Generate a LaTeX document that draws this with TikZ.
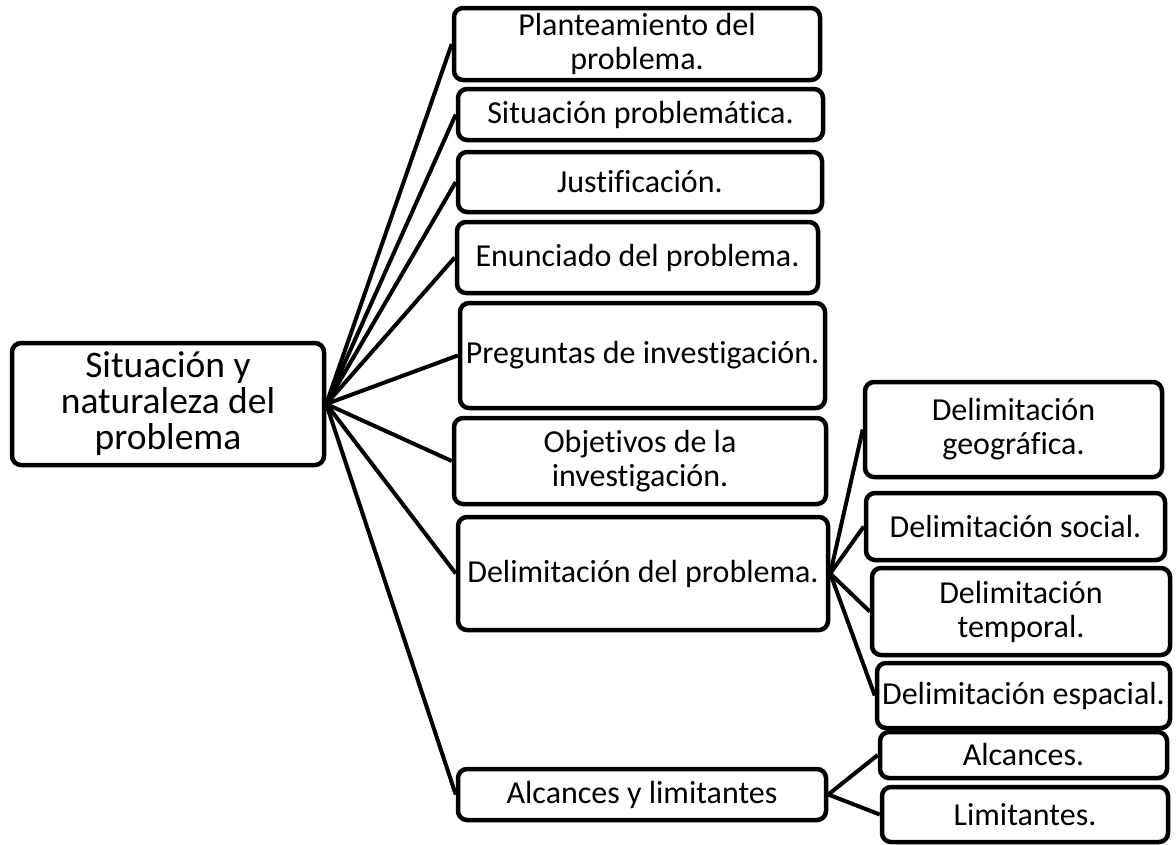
\documentclass[tikz,border=0pt]{standalone}
\usepackage{fontspec}
\setmainfont{Carlito}[Ligatures={NoCommon}]
\begin{document}
\begin{tikzpicture}[x=1pt,y=-1pt,
  box/.style={draw=black, line width=4.5pt, rounded corners=9pt, fill=white, align=center, inner sep=0pt, font=\fontsize{32}{34}\selectfont},
  rootbox/.style={box, font=\fontsize{37.5}{36}\selectfont},
  link/.style={draw=black, line width=4pt}]
\useasboundingbox[fill=white] (0,0) rectangle (1176,844);
% root
\node[rootbox, minimum width=312pt, minimum height=122pt] (root) at (168,404) {Situación y\\naturaleza del\\problema};
% level 1
\node[box, minimum width=366pt, minimum height=72pt] (p1) at (637,44) {Planteamiento del\\problema.};
\node[box, minimum width=365pt, minimum height=51pt] (p2) at (640.5,114.5) {Situación problemática.};
\node[box, minimum width=364pt, minimum height=60pt] (p3) at (640,182) {Justificación.};
\node[box, minimum width=361pt, minimum height=71pt] (p4) at (637.5,257.5) {Enunciado del problema.};
\node[box, minimum width=365pt, minimum height=105pt] (p5) at (642.5,355.5) {Preguntas de investigación.};
\node[box, minimum width=372pt, minimum height=86pt] (p6) at (640,461) {Objetivos de la\\investigación.};
\node[box, minimum width=370pt, minimum height=113pt] (p7) at (643,573.5) {Delimitación del problema.};
\node[box, minimum width=368pt, minimum height=51pt] (p8) at (642,794.5) {Alcances y limitantes};
% level 2
\node[box, minimum width=297pt, minimum height=95pt] (d1) at (1013.5,429.5) {Delimitación\\geográfica.};
\node[box, minimum width=299pt, minimum height=67pt] (d2) at (1015.5,526.5) {Delimitación social.};
\node[box, minimum width=298pt, minimum height=87pt] (d3) at (1021,611.5) {Delimitación\\temporal.};
\node[box, minimum width=293pt, minimum height=65pt] (d4) at (1023.5,695.5) {Delimitación espacial.};
\node[box, minimum width=287pt, minimum height=46pt] (a1) at (1023.5,755) {Alcances.};
\node[box, minimum width=286pt, minimum height=55pt] (a2) at (1025,814.5) {Limitantes.};
% connectors
\foreach \t in {p1,p2,p3,p4,p5,p6,p7,p8} \draw[link] (root.east) -- (\t.west);
\foreach \t in {d1,d2,d3,d4} \draw[link] (p7.east) -- (\t.west);
\foreach \t in {a1,a2} \draw[link] (p8.east) -- (\t.west);
\end{tikzpicture}
\end{document}
